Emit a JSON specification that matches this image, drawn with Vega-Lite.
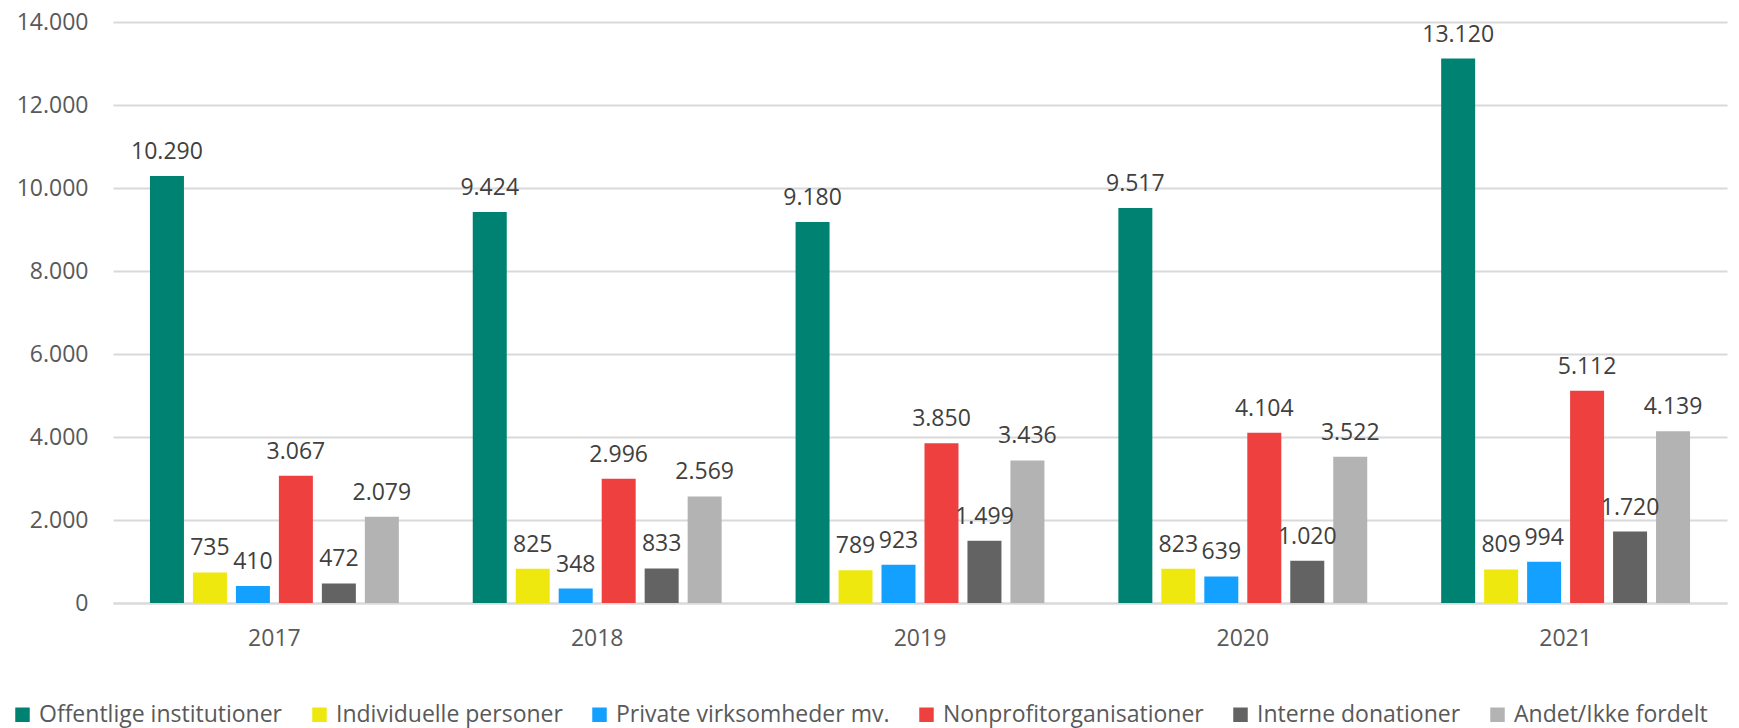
{
  "$schema": "https://vega.github.io/schema/vega-lite/v6.json",
  "width": 1614,
  "height": 581,
  "autosize": {"type": "none"},
  "padding": {"left": 113, "top": 22, "right": 12, "bottom": 125},
  "background": "white",
  "config": {
    "locale": {"number": {"decimal": ",", "thousands": ".", "grouping": [3], "currency": ["", " kr."]}},
    "font": "Open Sans",
    "view": {"stroke": null}
  },
  "data": {
    "values": [
      {"year": "2017", "kategori": "Offentlige institutioner", "value": 10290},
      {"year": "2017", "kategori": "Individuelle personer", "value": 735},
      {"year": "2017", "kategori": "Private virksomheder mv.", "value": 410},
      {"year": "2017", "kategori": "Nonprofitorganisationer", "value": 3067},
      {"year": "2017", "kategori": "Interne donationer", "value": 472},
      {"year": "2017", "kategori": "Andet/Ikke fordelt", "value": 2079},
      {"year": "2018", "kategori": "Offentlige institutioner", "value": 9424},
      {"year": "2018", "kategori": "Individuelle personer", "value": 825},
      {"year": "2018", "kategori": "Private virksomheder mv.", "value": 348},
      {"year": "2018", "kategori": "Nonprofitorganisationer", "value": 2996},
      {"year": "2018", "kategori": "Interne donationer", "value": 833},
      {"year": "2018", "kategori": "Andet/Ikke fordelt", "value": 2569},
      {"year": "2019", "kategori": "Offentlige institutioner", "value": 9180},
      {"year": "2019", "kategori": "Individuelle personer", "value": 789},
      {"year": "2019", "kategori": "Private virksomheder mv.", "value": 923},
      {"year": "2019", "kategori": "Nonprofitorganisationer", "value": 3850},
      {"year": "2019", "kategori": "Interne donationer", "value": 1499},
      {"year": "2019", "kategori": "Andet/Ikke fordelt", "value": 3436},
      {"year": "2020", "kategori": "Offentlige institutioner", "value": 9517},
      {"year": "2020", "kategori": "Individuelle personer", "value": 823},
      {"year": "2020", "kategori": "Private virksomheder mv.", "value": 639},
      {"year": "2020", "kategori": "Nonprofitorganisationer", "value": 4104},
      {"year": "2020", "kategori": "Interne donationer", "value": 1020},
      {"year": "2020", "kategori": "Andet/Ikke fordelt", "value": 3522},
      {"year": "2021", "kategori": "Offentlige institutioner", "value": 13120},
      {"year": "2021", "kategori": "Individuelle personer", "value": 809},
      {"year": "2021", "kategori": "Private virksomheder mv.", "value": 994},
      {"year": "2021", "kategori": "Nonprofitorganisationer", "value": 5112},
      {"year": "2021", "kategori": "Interne donationer", "value": 1720},
      {"year": "2021", "kategori": "Andet/Ikke fordelt", "value": 4139}
    ]
  },
  "encoding": {
    "x": {
      "field": "year", "type": "nominal",
      "scale": {"paddingInner": 0.229, "paddingOuter": 0.1145},
      "axis": {"title": null, "labelAngle": 0, "labelFontSize": 23, "labelColor": "#595959", "ticks": false, "domain": true, "domainColor": "#d9d9d9", "domainWidth": 2, "labelPadding": 24, "grid": false}
    },
    "xOffset": {
      "field": "kategori", "type": "nominal",
      "sort": ["Offentlige institutioner", "Individuelle personer", "Private virksomheder mv.", "Nonprofitorganisationer", "Interne donationer", "Andet/Ikke fordelt"],
      "scale": {"paddingInner": 0.209, "paddingOuter": 0}
    },
    "y": {
      "field": "value", "type": "quantitative",
      "scale": {"domain": [0, 14000], "nice": false},
      "axis": {"title": null, "values": [0, 2000, 4000, 6000, 8000, 10000, 12000, 14000], "format": ",.0f", "labelFontSize": 23, "labelColor": "#595959", "ticks": false, "domain": false, "labelPadding": 25, "gridColor": "#d9d9d9", "gridWidth": 2}
    }
  },
  "layer": [
    {
      "mark": {"type": "bar"},
      "encoding": {
        "color": {
          "field": "kategori", "type": "nominal",
          "scale": {
            "domain": ["Offentlige institutioner", "Individuelle personer", "Private virksomheder mv.", "Nonprofitorganisationer", "Interne donationer", "Andet/Ikke fordelt"],
            "range": ["#008272", "#EFE80F", "#14A0FF", "#EF4040", "#636363", "#B3B3B3"]
          },
          "legend": {
            "title": null, "orient": "none", "direction": "horizontal", "columns": 6,
            "legendX": -102, "legendY": 681,
            "symbolType": "square", "symbolSize": 210, "symbolStrokeWidth": 0,
            "labelFontSize": 23, "labelColor": "#595959", "labelOffset": 5,
            "columnPadding": 25, "labelLimit": 400
          }
        }
      }
    },
    {
      "mark": {"type": "text", "baseline": "alphabetic", "dy": -17, "fontSize": 23, "color": "#404040"},
      "encoding": {
        "text": {"field": "value", "type": "quantitative", "format": ",.0f"}
      }
    }
  ]
}
